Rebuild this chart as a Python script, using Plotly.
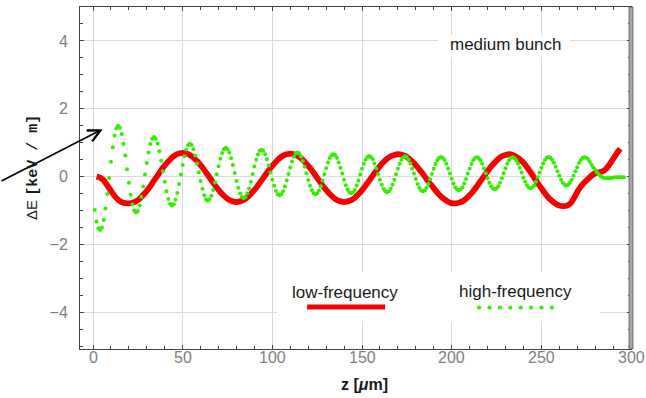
import plotly.graph_objects as go

# ---- data -------------------------------------------------------------
# low-frequency wake (red line), sampled every 2 um
z_low = list(range(2, 295, 2))
de_low = [
    0.00, -0.03, -0.11, -0.26, -0.42, -0.57, -0.68, -0.75, -0.78, -0.79,
    -0.77, -0.73, -0.65, -0.54, -0.42, -0.28, -0.12, 0.03, 0.19, 0.33, 0.45, 0.56, 0.64, 0.68, 0.70,
    0.68, 0.64, 0.56, 0.46, 0.34, 0.20, 0.05, -0.10, -0.25, -0.39, -0.51, -0.61, -0.69, -0.73, -0.75,
    -0.73, -0.69, -0.61, -0.51, -0.39, -0.26, -0.11, 0.04, 0.19, 0.32, 0.44, 0.54, 0.62, 0.66, 0.68,
    0.66, 0.62, 0.54, 0.44, 0.32, 0.19, 0.04, -0.11, -0.26, -0.39, -0.51, -0.61, -0.69, -0.73, -0.75,
    -0.73, -0.69, -0.62, -0.52, -0.40, -0.26, -0.12, 0.03, 0.17, 0.31, 0.43, 0.53, 0.60, 0.64, 0.66,
    0.65, 0.61, 0.54, 0.45, 0.34, 0.21, 0.08, -0.07, -0.21, -0.34, -0.47, -0.58, -0.67, -0.74, -0.78, -0.79,
    -0.77, -0.73, -0.65, -0.55, -0.43, -0.29, -0.14, 0.01, 0.16, 0.30, 0.42, 0.52, 0.60, 0.64, 0.66,
    0.64, 0.59, 0.51, 0.41, 0.28, 0.13, -0.03, -0.19, -0.34, -0.49, -0.62, -0.72, -0.80, -0.85, -0.87,
    -0.86, -0.80, -0.65, -0.45, -0.29, -0.17, -0.07, 0.03, 0.10, 0.13, 0.15, 0.22, 0.36, 0.52, 0.68, 0.82,
]

# high-frequency wake (green dots), sampled every 1 um
z_high = list(range(1, 297))
de_high = [
    -0.98, -1.32, -1.52, -1.57,
    -1.50, -1.28, -0.94, -0.51, -0.04, 0.44, 0.87, 1.21, 1.42, 1.50,
    1.44, 1.26, 0.97, 0.62, 0.22, -0.18, -0.53, -0.82, -1.00, -1.06,
    -1.01, -0.85, -0.60, -0.29, 0.06, 0.40, 0.71, 0.96, 1.12, 1.17,
    1.12, 0.98, 0.75, 0.47, 0.16, -0.15, -0.43, -0.66, -0.80, -0.85,
    -0.81, -0.68, -0.48, -0.22, 0.06, 0.34, 0.60, 0.80, 0.93, 0.97,
    0.93, 0.81, 0.62, 0.39, 0.13, -0.13, -0.36, -0.55, -0.67, -0.71,
    -0.67, -0.56, -0.39, -0.17, 0.07, 0.31, 0.53, 0.70, 0.81, 0.85,
    0.81, 0.71, 0.54, 0.34, 0.11, -0.13, -0.33, -0.50, -0.60, -0.64,
    -0.61, -0.50, -0.35, -0.15, 0.08, 0.30, 0.50, 0.65, 0.76, 0.79,
    0.76, 0.66, 0.51, 0.33, 0.12, -0.09, -0.27, -0.42, -0.52, -0.55,
    -0.52, -0.43, -0.29, -0.11, 0.08, 0.27, 0.45, 0.59, 0.68, 0.71,
    0.68, 0.59, 0.46, 0.29, 0.10, -0.10, -0.27, -0.40, -0.49, -0.52,
    -0.49, -0.41, -0.28, -0.11, 0.07, 0.25, 0.42, 0.55, 0.63, 0.66,
    0.63, 0.55, 0.42, 0.26, 0.09, -0.09, -0.25, -0.38, -0.46, -0.49,
    -0.46, -0.39, -0.26, -0.11, 0.06, 0.23, 0.38, 0.50, 0.58, 0.61,
    0.58, 0.51, 0.39, 0.24, 0.08, -0.09, -0.24, -0.36, -0.43, -0.46,
    -0.43, -0.36, -0.24, -0.09, 0.07, 0.23, 0.38, 0.50, 0.57, 0.60,
    0.58, 0.50, 0.39, 0.24, 0.09, -0.07, -0.22, -0.33, -0.41, -0.43,
    -0.41, -0.33, -0.22, -0.08, 0.08, 0.23, 0.37, 0.48, 0.55, 0.58,
    0.56, 0.49, 0.38, 0.24, 0.09, -0.06, -0.20, -0.31, -0.38, -0.40,
    -0.38, -0.31, -0.20, -0.07, 0.09, 0.24, 0.37, 0.48, 0.55, 0.57,
    0.55, 0.48, 0.38, 0.25, 0.10, -0.05, -0.18, -0.28, -0.35, -0.37,
    -0.35, -0.28, -0.18, -0.05, 0.10, 0.25, 0.38, 0.48, 0.55, 0.57,
    0.55, 0.48, 0.38, 0.26, 0.12, -0.03, -0.15, -0.25, -0.32, -0.34,
    -0.32, -0.25, -0.15, -0.02, 0.12, 0.26, 0.39, 0.49, 0.56, 0.58,
    0.56, 0.50, 0.41, 0.29, 0.16, 0.03, -0.09, -0.18, -0.24, -0.26,
    -0.24, -0.18, -0.09, 0.03, 0.16, 0.28, 0.40, 0.49, 0.55, 0.57,
    0.56, 0.52, 0.44, 0.35, 0.27, 0.20, 0.13, 0.07, 0.02, -0.02, -0.04,
    -0.05, -0.05, -0.05, -0.04, -0.03, -0.02, -0.02, -0.02, -0.02, -0.02, -0.02,
]
assert len(z_low) == len(de_low) and len(z_high) == len(de_high)

x_ticks = [0, 50, 100, 150, 200, 250, 300]
y_ticks = [-4, -2, 0, 2, 4]
series_names = ["low-frequency", "high-frequency"]
panel_label = "medium bunch"

# ---- figure geometry ---------------------------------------------------
W, H = 646, 398
ML, MR, MT, MB = 80, 15, 7, 49
PW, PH = W - ML - MR, H - MT - MB
X_RANGE = [-7.25, 300]
Y_RANGE = [-5.08, 5.0]
RED = "#f40000"
GREEN = "#33ee00"


def px_x(px):
    """page pixel column -> paper x"""
    return (px - ML) / PW


def px_y(py):
    """page pixel row -> paper y"""
    return (H - MB - py) / PH


fig = go.Figure()
fig.add_trace(go.Scatter(
    x=z_low, y=de_low, mode="lines", name=series_names[0],
    line=dict(color=RED, width=5.8, shape="spline", smoothing=0.6),
    hoverinfo="skip", showlegend=False))
fig.add_trace(go.Scatter(
    x=z_high, y=de_high, mode="markers", name=series_names[1],
    marker=dict(color=GREEN, size=4, line=dict(width=0)),
    hoverinfo="skip", showlegend=False))

tick_font = dict(family="Liberation Sans, Arial, sans-serif", size=16, color="#7f7f7f")
axis_common = dict(
    showline=True, linecolor="#444", linewidth=1, mirror="ticks",
    ticks="inside", ticklen=4, tickcolor="#444", tickwidth=1,
    showgrid=True, gridcolor="#dadada", gridwidth=1.2, zeroline=False,
    tickfont=tick_font,
)
# x tick labels are set as annotations right under the frame
fig.update_xaxes(range=X_RANGE, tickvals=x_ticks, showticklabels=False,
                 minor=dict(dtick=10, tick0=0, ticks="inside", ticklen=3,
                            tickcolor="#444", showgrid=False),
                 **axis_common)
fig.update_yaxes(range=Y_RANGE, tickvals=y_ticks, ticklabelstandoff=8,
                 minor=dict(dtick=0.5, tick0=0, ticks="inside", ticklen=3,
                            tickcolor="#444", showgrid=False),
                 **axis_common)

# white patches that mask the grid behind the text blocks
shapes = [
    dict(type="rect", xref="x", yref="y", x0=102.6, x1=282.8, y0=-4.29, y1=-2.81,
         fillcolor="white", line=dict(width=0), layer="between"),
    dict(type="rect", xref="x", yref="y", x0=192.4, x1=266.0, y0=3.53, y1=4.18,
         fillcolor="white", line=dict(width=0), layer="between"),
    # legend sample: red line
    dict(type="line", xref="x", yref="y", x0=119.4, x1=162.9, y0=-3.84, y1=-3.84,
         line=dict(color=RED, width=5)),
    # right frame bar
    dict(type="rect", xref="paper", yref="paper", x0=1 - 2.0 / PW, x1=1 + 2.0 / PW,
         y0=0, y1=1, fillcolor="#a8a8a8", line=dict(color="#555", width=0.8)),
]
# legend sample: green dots
for i in range(8):
    cx = 215.3 + 5.8 * i
    shapes.append(dict(type="circle", xref="x", yref="y",
                       x0=cx - 1.15, x1=cx + 1.15, y0=-3.86 - 0.06, y1=-3.86 + 0.06,
                       fillcolor=GREEN, line=dict(width=0)))

text_font = dict(family="Liberation Sans, Arial, sans-serif", size=17, color="#1a1a1a")
annotations = [
    dict(x=230.5, y=3.90, xref="x", yref="y", text=panel_label, showarrow=False,
         font=text_font),
    dict(x=140.5, y=-3.42, xref="x", yref="y", text=series_names[0], showarrow=False,
         font=text_font),
    dict(x=235.4, y=-3.38, xref="x", yref="y", text=series_names[1], showarrow=False,
         font=text_font),
    # pointer arrow into the head of the bunch
    dict(x=5.4, y=1.40, xref="x", yref="y", ax=-102.7, ay=52.7, axref="pixel", ayref="pixel",
         text="", showarrow=True, arrowhead=5, arrowsize=1.5, arrowwidth=1.6,
         arrowcolor="#000", standoff=0),
    # axis titles
    dict(x=px_x(33), y=px_y(168), xref="paper", yref="paper",
         xanchor="center", yanchor="middle",
         text='ΔE <span style="font-family:Liberation Mono, Courier New, monospace">'
              '<b>[keV / m]</b></span>',
         textangle=-90, showarrow=False,
         font=dict(family="Liberation Sans, Arial, sans-serif", size=15, color="#1a1a1a")),
    dict(x=px_x(364), y=px_y(385), xref="paper", yref="paper",
         xanchor="center", yanchor="middle",
         text="<b>z [<i>μ</i>m]</b>", showarrow=False,
         font=dict(family="Liberation Sans, Arial, sans-serif", size=16, color="#1a1a1a")),
]
for t in x_ticks:
    annotations.append(dict(x=t, y=px_y(357), xref="x", yref="paper",
                            xanchor="center", yanchor="middle", text=str(t),
                            showarrow=False, font=tick_font))

fig.update_layout(
    width=W, height=H, autosize=False,
    margin=dict(l=ML, r=MR, t=MT, b=MB),
    paper_bgcolor="white", plot_bgcolor="white",
    shapes=shapes, annotations=annotations,
    showlegend=False,
)

fig.write_html("out.html", include_plotlyjs=True, config={"displayModeBar": False})
